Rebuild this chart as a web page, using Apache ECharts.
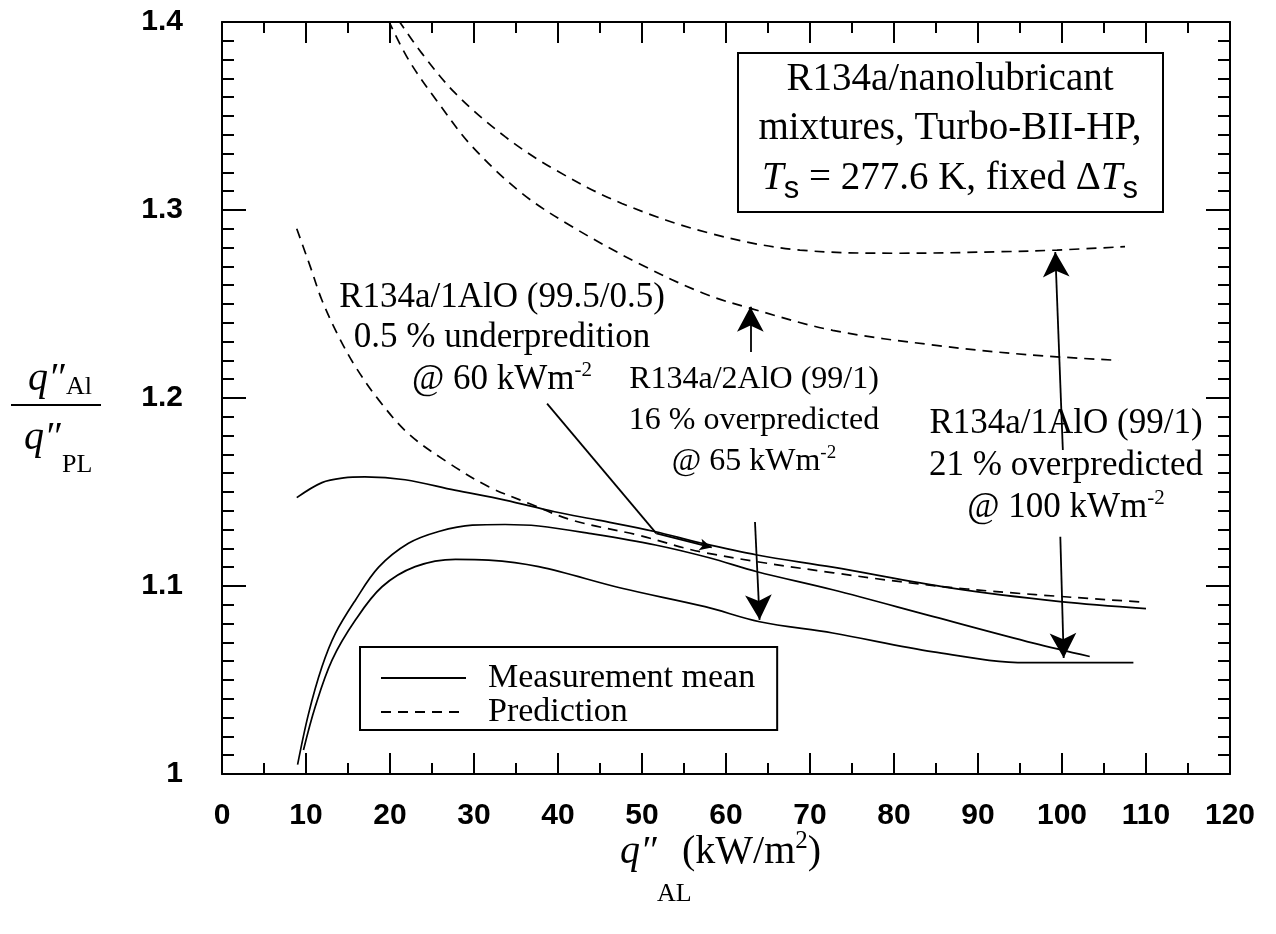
<!DOCTYPE html>
<html><head><meta charset="utf-8">
<script src="https://cdn.jsdelivr.net/npm/echarts@6/dist/echarts.min.js"></script>
<style>html,body{margin:0;padding:0;background:#fff}#c{width:1276px;height:934px}</style>
</head><body><div id="c"></div>
<script>
// ---- tick values ----
const xTicks = [0,10,20,30,40,50,60,70,80,90,100,110,120];
const yTicks = [1.0,1.1,1.2,1.3,1.4];

// ---- series values [q''_AL (kW/m2), ratio] ----
const measA = [[8.9,1.147],[11.9,1.155],[14.5,1.1575],[17,1.158],[21.8,1.1565],[27.7,1.151],[33.7,1.1457],[39.6,1.1395],[44.8,1.135],[51.5,1.129],[56.9,1.123],[63.7,1.1165],[72.7,1.110],[86.7,1.099],[99.8,1.0917],[110,1.088]];
const measB = [[9.0,1.005],[10.3,1.032],[11.9,1.057],[13.5,1.0748],[15.9,1.0926],[18.65,1.110],[22.2,1.1227],[25.8,1.129],[29.8,1.1324],[33.7,1.1327],[37.7,1.1319],[43.7,1.128],[51.6,1.1218],[58,1.115],[63.7,1.1076],[72.7,1.098],[84.7,1.0837],[96.6,1.0696],[103.3,1.0625]];
const measC = [[9.7,1.0128],[11.1,1.0358],[13.1,1.0606],[15.9,1.082],[19.05,1.0996],[23,1.1103],[27.8,1.1142],[31.75,1.1138],[37.7,1.1103],[47.6,1.0988],[57.5,1.089],[64,1.081],[72.7,1.075],[84.7,1.065],[95.8,1.0592],[108.5,1.0592]];
const predA = [[8.9,1.29],[10.5,1.27],[11.9,1.252],[13.9,1.2326],[15.9,1.2166],[18.65,1.199],[22.2,1.181],[27,1.1654],[31.75,1.1528],[36.5,1.144],[41.7,1.135],[49.6,1.127],[57.2,1.118],[72.8,1.107],[88.7,1.0984],[109.5,1.0915]];
const predB = [[19.8,1.401],[22.2,1.38],[25.8,1.3567],[29.8,1.3337],[35.7,1.3089],[41.7,1.2911],[49.6,1.2716],[57.3,1.2557],[62.9,1.2477],[72.7,1.236],[85,1.228],[96,1.223],[106.7,1.220]];
const predC = [[21,1.401],[23.8,1.3833],[27.8,1.362],[33.7,1.339],[39.7,1.3213],[47.6,1.3035],[58.1,1.2876],[68.8,1.2787],[80.7,1.277],[92.6,1.2778],[99.4,1.2787],[107.5,1.2805]];

// ---- annotation arrows (data coords) ----
const pointerA = [[38.7,1.197],[51.7,1.128],[58.3,1.1205]];
const arrowUp2 = [[62.9,1.2245],[62.9,1.2485]];
const arrowDown2 = [[63.45,1.134],[64.0,1.082]];
const arrowUp1 = [[100.1,1.1723],[99.2,1.2777]];
const arrowDown1 = [[99.8,1.1262],[100.2,1.0617]];

const SERIF = 'Liberation Serif';
const SANS = 'Liberation Sans';

const chart = echarts.init(document.getElementById('c'), null, {renderer:'canvas'});

function curve(data, dashed){
  return {
    type:'line', name: dashed ? 'Prediction' : 'Measurement mean', data: data,
    symbol:'none', smooth:0.35, z:3,
    lineStyle:{color:'#000', width:1.7, type: dashed ? [10,7] : 'solid'},
    itemStyle:{color:'#000'}
  };
}

function seg(a, b, arrow, size){
  return [{coord:a, symbol:'none'}, {coord:b, symbol: arrow ? 'arrow' : 'none', symbolSize: size || [20,25]}];
}

const axisCommon = {
  type:'value', splitLine:{show:false},
  axisLine:{show:true, onZero:false, lineStyle:{color:'#000', width:2}},
};

const xBase = Object.assign({}, axisCommon, {
  min: xTicks[0], max: xTicks[xTicks.length-1], interval: xTicks[1]-xTicks[0],
  axisTick:{show:true, inside:true, length:21, lineStyle:{color:'#000', width:2}},
  minorTick:{show:true, splitNumber:2, length:11, lineStyle:{color:'#000', width:2}}
});
const yBase = Object.assign({}, axisCommon, {
  min: yTicks[0], max: yTicks[yTicks.length-1], interval: 0.1,
  axisTick:{show:true, inside:true, length:24, lineStyle:{color:'#000', width:2}},
  minorTick:{show:true, splitNumber:10, length:12, lineStyle:{color:'#000', width:2}}
});

// ---- rich text helper: lays out runs measured with canvas ----
const mctx = document.createElement('canvas').getContext('2d');
function runFont(r){ return (r.italic?'italic ':'') + (r.size) + 'px "' + (r.family||SERIF) + '"'; }
function textLine(cx, base, runs, align){
  let w = 0;
  runs.forEach(r => { mctx.font = runFont(r); r.w = mctx.measureText(r.t).width; w += r.w; });
  let x = align === 'left' ? cx : cx - w/2;
  const els = [];
  runs.forEach(r => {
    els.push({type:'text', x:x, y: base + (r.dy||0) - 0.34*r.size, silent:true, z:10,
      style:{text:r.t, fontSize:r.size, fontFamily:r.family||SERIF, fontStyle:r.italic?'italic':'normal',
             fill:'#000', align:'left', verticalAlign:'middle'}});
    x += r.w;
  });
  return els;
}

const F = 35, FB = 32, SUP = 21;
let g = [];
// annotation A
g = g.concat(textLine(502, 310, [{t:'R134a/1AlO (99.5/0.5)', size:F}]));
g = g.concat(textLine(502, 350, [{t:'0.5 % underpredition', size:F}]));
g = g.concat(textLine(502, 392, [{t:'@ 60 kWm', size:F},{t:'-2', size:SUP, dy:-14}]));
// annotation B
g = g.concat(textLine(754, 390, [{t:'R134a/2AlO (99/1)', size:FB}]));
g = g.concat(textLine(754, 431, [{t:'16 % overpredicted', size:FB}]));
g = g.concat(textLine(754, 472, [{t:'@ 65 kWm', size:FB},{t:'-2', size:19, dy:-13}]));
// annotation C
g = g.concat(textLine(1066, 436, [{t:'R134a/1AlO (99/1)', size:F}]));
g = g.concat(textLine(1066, 478, [{t:'21 % overpredicted', size:F}]));
g = g.concat(textLine(1066, 520, [{t:'@ 100 kWm', size:F},{t:'-2', size:SUP, dy:-14}]));
// info box
const BF = 39;
g.push({type:'rect', shape:{x:738, y:53, width:425, height:159}, silent:true, z:9,
  style:{fill:'#fff', stroke:'#000', lineWidth:2}});
g = g.concat(textLine(950, 93, [{t:'R134a/nanolubricant', size:BF}]));
g = g.concat(textLine(950, 142, [{t:'mixtures, Turbo-BII-HP,', size:BF}]));
g = g.concat(textLine(950, 192, [{t:'T', size:BF, italic:true},{t:'s', size:31, family:SANS, dy:8},{t:' = 277.6 K, fixed \u0394', size:BF},{t:'T', size:BF, italic:true},{t:'s', size:31, family:SANS, dy:8}]));
// y-axis title (fraction)
g = g.concat(textLine(28, 393, [{t:'q\u2033', size:40, italic:true}], 'left'));
g = g.concat(textLine(66, 396, [{t:'Al', size:26}], 'left'));
g.push({type:'line', shape:{x1:11, y1:405, x2:101, y2:405}, silent:true, style:{stroke:'#000', lineWidth:2}});
g = g.concat(textLine(24, 452, [{t:'q\u2033', size:40, italic:true}], 'left'));
g = g.concat(textLine(62, 474, [{t:'PL', size:26}], 'left'));
// x-axis title
g = g.concat(textLine(620, 866, [{t:'q\u2033', size:40, italic:true}], 'left'));
g = g.concat(textLine(657, 903, [{t:'AL', size:26}], 'left'));
g = g.concat(textLine(682, 866, [{t:'(kW/m', size:40},{t:'2', size:25, dy:-16},{t:')', size:40}], 'left'));

const option = {
  backgroundColor:'#fff',
  animation:false,
  grid:{left:222, right:46, top:22, bottom:160, containLabel:false},
  xAxis:[
    Object.assign({}, xBase, {position:'bottom',
      axisLabel:{show:true, margin:27, fontSize:30, fontWeight:'bold', fontFamily:SANS, color:'#000'}}),
    Object.assign({}, xBase, {position:'top', axisLabel:{show:false}})
  ],
  yAxis:[
    Object.assign({}, yBase, {position:'left',
      axisLabel:{show:true, margin:39, fontSize:30, fontWeight:'bold', fontFamily:SANS, color:'#000'}}),
    Object.assign({}, yBase, {position:'right', axisLabel:{show:false}})
  ],
  legend:{
    data:['Measurement mean','Prediction'], orient:'vertical', left:360, top:647,
    itemWidth:85, itemHeight:14, itemGap:0, padding:[14,22,1,20],
    borderColor:'#000', borderWidth:2, backgroundColor:'#fff',
    itemStyle:{color:'rgba(0,0,0,0)', borderColor:'rgba(0,0,0,0)', borderWidth:0, opacity:0},
    textStyle:{fontFamily:SERIF, fontSize:34, color:'#000', lineHeight:32, padding:[0,0,0,17]},
    selectedMode:false
  },
  series:[
    curve(measA,false), curve(measB,false), curve(measC,false),
    curve(predA,true), curve(predB,true), curve(predC,true),
    {type:'line', name:'annotations', data:[], symbol:'none', z:4,
     markLine:{silent:true, animation:false, label:{show:false},
       lineStyle:{color:'#000', width:1.8, type:'solid'},
       data:[
         seg(pointerA[0], pointerA[1], false),
         seg(pointerA[1], pointerA[2], true, [9,12]),
         seg(arrowUp2[0], arrowUp2[1], true),
         seg(arrowDown2[0], arrowDown2[1], true),
         seg(arrowUp1[0], arrowUp1[1], true),
         seg(arrowDown1[0], arrowDown1[1], true)
       ]}}
  ],
  graphic: g
};
chart.setOption(option);
</script>
</body></html>
